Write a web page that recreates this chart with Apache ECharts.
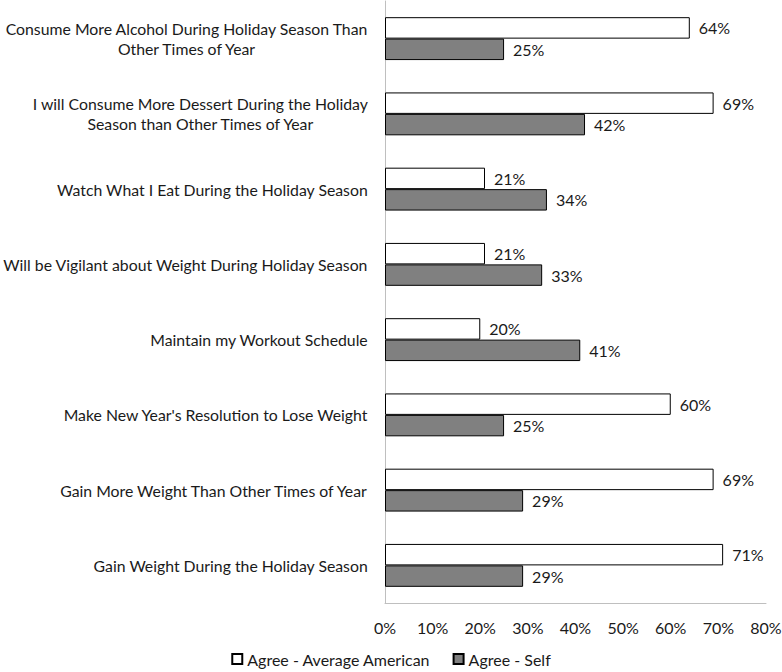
<!DOCTYPE html>
<html>
<head>
<meta charset="utf-8">
<style>
  html, body { margin: 0; padding: 0; background: #fff; }
  #chart { width: 782px; height: 672px; }
</style>
<script src="https://cdn.jsdelivr.net/npm/echarts@6/dist/echarts.min.js"></script>
</head>
<body>
<div id="chart"></div>
<script>
var categories = [
  'Consume More Alcohol During Holiday Season Than\nOther Times of Year',
  'I will Consume More Dessert During the Holiday\nSeason than Other Times of Year',
  'Watch What I Eat During the Holiday Season',
  'Will be Vigilant about Weight During Holiday Season',
  'Maintain my Workout Schedule',
  "Make New Year's Resolution to Lose Weight",
  'Gain More Weight Than Other Times of Year',
  'Gain Weight During the Holiday Season'
];
var averageAmerican = [64, 69, 21, 21, 20, 60, 69, 71];
var self = [25, 42, 34, 33, 41, 25, 29, 29];
var xTicks = { min: 0, max: 80, interval: 10 };

var font = 'Lato, "Open Sans", sans-serif';
var ink = '#1a1a1a';
var rule = '#bfbfbf';

var chart = echarts.init(document.getElementById('chart'), null, { renderer: 'svg' });
chart.setOption({
  animation: false,
  textStyle: { fontFamily: font },
  grid: { left: 385, right: 16, top: 1, bottom: 69, containLabel: false, outerBoundsMode: 'none' },
  legend: {
    data: ['Agree - Average American', 'Agree - Self'],
    bottom: 0,
    left: 'center',
    icon: 'rect',
    itemWidth: 10,
    itemHeight: 10,
    itemGap: 22,
    textStyle: { color: ink, fontSize: 16, fontFamily: font }
  },
  xAxis: {
    type: 'value',
    min: xTicks.min,
    max: xTicks.max,
    interval: xTicks.interval,
    axisLine: { show: true, lineStyle: { color: rule } },
    axisTick: { show: false },
    splitLine: { show: false },
    axisLabel: { color: ink, fontSize: 16, margin: 16, formatter: '{value}%' }
  },
  yAxis: {
    type: 'category',
    inverse: true,
    data: categories,
    axisLine: { show: true, lineStyle: { color: rule } },
    axisTick: { show: false },
    axisLabel: {
      color: ink,
      fontSize: 15.8,
      margin: 17,
      lineHeight: 20,
      // centre each line of a wrapped label, like the original
      formatter: function (v) {
        return v.split('\n').map(function (l) { return '{c|' + l + '}'; }).join('\n');
      },
      rich: { c: { align: 'center', fontSize: 15.8, lineHeight: 20, color: ink } }
    }
  },
  series: [
    {
      name: 'Agree - Average American',
      type: 'bar',
      data: averageAmerican,
      barGap: '0%',
      barCategoryGap: '43%',
      itemStyle: { color: '#ffffff', borderColor: '#000', borderWidth: 1 },
      label: { show: true, position: 'right', distance: 9, formatter: '{c}%', color: ink, fontSize: 16 }
    },
    {
      name: 'Agree - Self',
      type: 'bar',
      data: self,
      itemStyle: { color: '#808080', borderColor: '#000', borderWidth: 1 },
      label: { show: true, position: 'right', distance: 9, formatter: '{c}%', color: ink, fontSize: 16 }
    }
  ]
});
</script>
</body>
</html>
